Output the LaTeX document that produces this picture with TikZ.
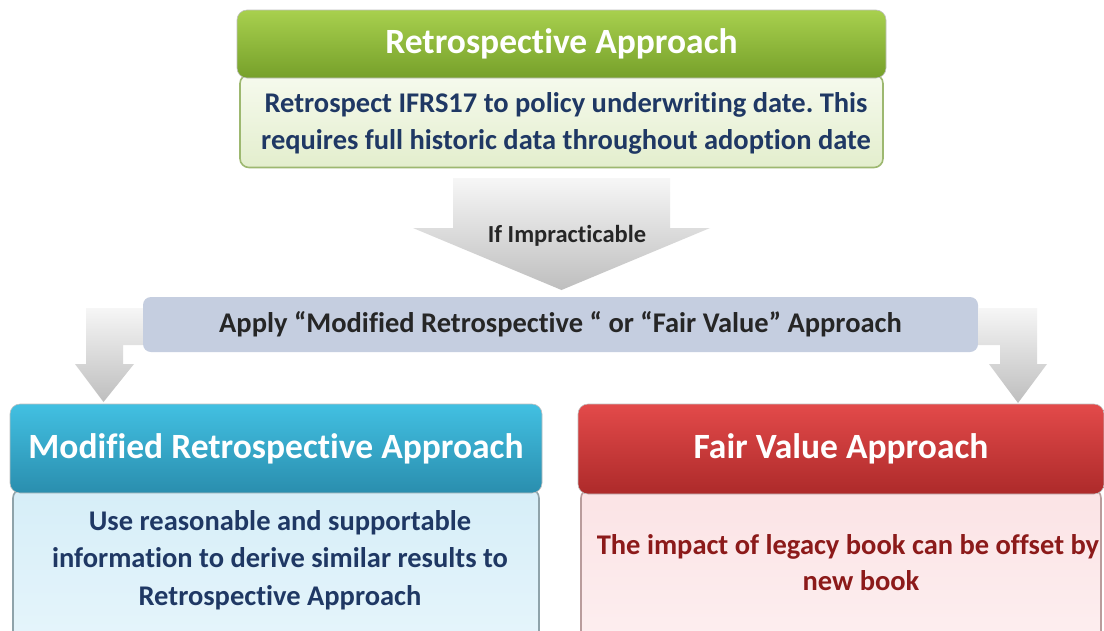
\documentclass[tikz,border=0pt]{standalone}
\usepackage{fontspec}
\setmainfont{Carlito}[Ligatures={NoCommon,NoRare,NoContextual}]
\frenchspacing
\definecolor{grnT}{HTML}{A8D04E}
\definecolor{grnB}{HTML}{76A02A}
\definecolor{grnBodyT}{HTML}{F6FAEE}
\definecolor{grnBodyB}{HTML}{E3EECD}
\definecolor{grnLine}{HTML}{9DB870}
\definecolor{bluT}{HTML}{42C0E2}
\definecolor{bluB}{HTML}{2A8EAE}
\definecolor{bluBodyT}{HTML}{D6EEF8}
\definecolor{bluBodyB}{HTML}{E6F5FB}
\definecolor{bluLine}{HTML}{8FA3AA}
\definecolor{redT}{HTML}{E34A4A}
\definecolor{redB}{HTML}{AD2A2A}
\definecolor{redBodyT}{HTML}{FBE3E5}
\definecolor{redBodyB}{HTML}{FDEFF0}
\definecolor{redLine}{HTML}{B99C9C}
\definecolor{navy}{HTML}{1F3864}
\definecolor{darkred}{HTML}{8C1A1A}
\definecolor{barfill}{HTML}{C5CEE0}
\definecolor{txtgray}{HTML}{262626}
\definecolor{arrT}{HTML}{F6F6F6}
\definecolor{arrB}{HTML}{BEBEBE}
\tikzset{
  hdr/.style={rectangle, rounded corners=10pt, inner sep=0pt, text=white,
    draw=black!25, line width=0.6pt, font=\fontsize{35.5}{35.5}\selectfont\bfseries},
  bodybox/.style={rectangle, rounded corners=9pt, inner sep=0pt, line width=1.6pt},
  bodytext/.style={align=center, inner sep=0pt, font=\fontsize{28.5}{37.5}\selectfont\bfseries},
  blockarrow/.style={top color=arrT, middle color=arrB, bottom color=arrB, draw=none}
}
\begin{document}
\begin{tikzpicture}[x=1pt,y=-1pt]
\useasboundingbox (0,0) rectangle (1104,630);
\clip (0,0) rectangle (1104,630);
\fill[white] (0,0) rectangle (1104,630);

% top: retrospective approach
\node[bodybox, draw=grnLine, top color=grnBodyT, bottom color=grnBodyB,
  minimum width=643pt, minimum height=93pt] (rb) at (561.5,121) {};
\node[hdr, top color=grnT, bottom color=grnB,
  minimum width=649pt, minimum height=68pt] (rh) at (561.5,44) {Retrospective Approach};
\node[bodytext, text=navy, font=\fontsize{28.5}{37}\selectfont\bfseries] (rt) at (566,123.5)
  {Retrospect IFRS17 to policy underwriting date. This\\requires full historic data throughout adoption date};

% middle arrow
\path[blockarrow] (453,178) -- (670,178) -- (670,228) -- (710,228) -- (561.5,290)
  -- (413,228) -- (453,228) -- cycle;
\node[text=txtgray, font=\fontsize{24.5}{24.5}\selectfont\bfseries, inner sep=0pt] (imp) at (567,236) {If Impracticable};

% bar
\node[rectangle, rounded corners=8pt, fill=barfill, inner sep=0pt,
  minimum width=835pt, minimum height=55pt, text=txtgray,
  font=\fontsize{28.5}{28.5}\selectfont\bfseries] (bar) at (560.5,324.5)
  {Apply “Modified Retrospective “ or “Fair Value” Approach};

% bottom-left: modified retrospective
\node[bodybox, draw=bluLine, top color=bluBodyT, bottom color=bluBodyB,
  minimum width=526pt, minimum height=161pt] (mb) at (276,569.5) {};
\node[hdr, top color=bluT, bottom color=bluB,
  minimum width=532pt, minimum height=89pt] (mh) at (276,448.5) {Modified Retrospective Approach};
\node[bodytext, text=navy] (mt) at (280,560)
  {Use reasonable and supportable\\information to derive similar results to\\Retrospective Approach};

% bottom-right: fair value
\node[bodybox, draw=redLine, top color=redBodyT, bottom color=redBodyB,
  minimum width=520pt, minimum height=161pt] (fb) at (841,569.5) {};
\node[hdr, top color=redT, bottom color=redB,
  minimum width=526pt, minimum height=90pt] (fh) at (841,449) {Fair Value Approach};
\node[bodytext, text=darkred, font=\fontsize{28.5}{36}\selectfont\bfseries] (ft) at (861,563)
  {The impact of legacy book can be offset by\hspace*{26pt}\\new book};

% bent arrows
\path[blockarrow] (bar.west |- 0,308) -- (86,308) -- (86,364) -- (75,364) -- (103.5,402)
  -- (134,364) -- (123,364) -- (123,345) -- (bar.west |- 0,345) -- cycle;
\path[blockarrow] (bar.east |- 0,308) -- (1037,308) -- (1037,364) -- (1047,364) -- (1018,403)
  -- (989,364) -- (1000,364) -- (1000,345) -- (bar.east |- 0,345) -- cycle;
\end{tikzpicture}
\end{document}
